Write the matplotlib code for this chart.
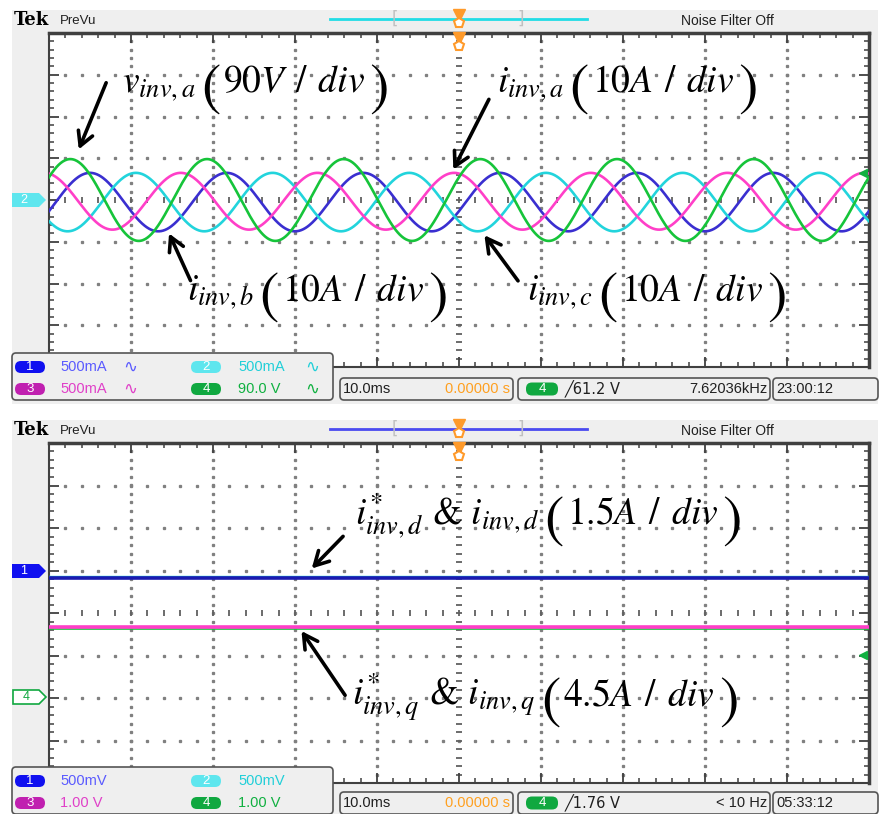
import numpy as np
import matplotlib
matplotlib.use('Agg')
from matplotlib import pyplot as plt
from matplotlib.patches import FancyBboxPatch, Polygon, Rectangle

plt.rcParams['mathtext.fontset'] = 'stix'

# ---- data ----
channels = ['1', '2', '3', '4']
trace_colors = ['#3a2fd0', '#22d4dc', '#ff3fc8', '#16c43a']
badge_colors = ['#1010f0', '#5ee6ee', '#c020b0', '#10a840']
label_colors = ['#5a5aff', '#20cfd8', '#e040c8', '#10b040']

# top screen: 60 Hz sines, 10 ms/div, values in divisions
freq_hz = 60.0
amp_div = [0.70, 0.70, 0.68, 0.98]
peak_ms = [5.0, 10.6, -0.6, 2.6]
offset_div = [-0.05, -0.05, -0.03, 0.0]
scale_top = ['500mA', '500mA', '500mA', '90.0 V']

# bottom screen: dc levels in divisions
level_div = [0.82, 0.86, -0.33, -0.37]
level_width = [2.6, 1.0, 2.6, 1.2]
scale_bot = ['500mV', '500mV', '1.00 V', '1.00 V']

timebase = '10.0ms'
position = '0.00000 s'
trig_top, freq_top, clock_top = '61.2 V', '7.62036kHz', '23:00:12'
trig_bot, freq_bot, clock_bot = '1.76 V', '< 10 Hz', '05:33:12'

fig = plt.figure(figsize=(8.8, 8.14), dpi=100)
fig.patch.set_facecolor('white')

# background layer in pixel coords
bg = fig.add_axes([0, 0, 1, 1], zorder=0)
bg.set_xlim(0, 880); bg.set_ylim(814, 0); bg.axis('off')
for y0, y1 in [(10, 404), (420, 814)]:
    bg.add_patch(Rectangle((12, y0), 866, y1 - y0, facecolor='#efefef', edgecolor='none'))

axes = []
for top_px, bot_px in [(33, 367), (443, 783)]:
    ax = fig.add_axes([49 / 880, 1 - bot_px / 814, 820 / 880, (bot_px - top_px) / 814], zorder=1)
    ax.set_xlim(-50, 50)
    ax.set_ylim(-4, 4)
    ax.set_facecolor('white')
    ax.set_xticks(np.arange(-50, 51, 10))
    ax.set_xticks(np.arange(-50, 51, 2), minor=True)
    ax.set_yticks(np.arange(-4, 4.1, 1))
    ax.set_yticks(np.arange(-4, 4.1, 0.2), minor=True)
    ax.tick_params(which='both', direction='in', top=True, right=True,
                   labelbottom=False, labelleft=False, color='#404040')
    ax.tick_params(which='major', length=7, width=1.3)
    ax.tick_params(which='minor', length=3.5, width=1.1)
    for s in ax.spines.values():
        s.set_color('#404040'); s.set_linewidth(1.5)
    ax.spines['top'].set_linewidth(2.5)
    ax.spines['right'].set_linewidth(2.5)
    # dotted graticule
    ydots = np.arange(-3.8, 3.81, 0.2)
    for gx in [-40, -30, -20, -10, 10, 20, 30, 40]:
        ax.plot(np.full_like(ydots, gx), ydots, ls='none', marker='s', ms=1.4, color='#808080', zorder=1)
    xdots = np.arange(-48, 48.1, 2)
    for gy in [-3, -2, -1, 1, 2, 3]:
        ax.plot(xdots, np.full_like(xdots, gy), ls='none', marker='s', ms=1.4, color='#808080', zorder=1)
    ax.plot(np.zeros_like(ydots), ydots, ls='none', marker='_', ms=5, mew=1.3, color='#606060', zorder=1)
    ax.plot(xdots, np.zeros_like(xdots), ls='none', marker='|', ms=5, mew=1.3, color='#606060', zorder=1)
    axes.append(ax)

ax1, ax2 = axes

# top traces
t = np.linspace(-50, 50, 1200)
for i in range(4):
    y = offset_div[i] + amp_div[i] * np.cos(2 * np.pi * freq_hz * (t - peak_ms[i]) / 1000.0)
    ax1.plot(t, y, color=trace_colors[i], lw=1.9, zorder=3)

# bottom traces
for i in [3, 2, 1, 0]:
    ax2.plot([-50, 50], [level_div[i], level_div[i]], color=trace_colors[i] if i != 0 else '#1a1ab0',
             lw=level_width[i], zorder=3)


def big_label(ax, x, y, head, unit, size=27):
    t1 = ax.text(x, y, head, fontsize=size, va='baseline', ha='left', zorder=6, family='STIXGeneral')
    t2 = ax.annotate('(', xy=(1, y), xycoords=(t1, 'data'), xytext=(4, -0.33 * size),
                     textcoords='offset points', fontsize=size * 1.55, family='STIXGeneral',
                     va='baseline', zorder=6)
    t3 = ax.annotate(unit, xy=(1, y), xycoords=(t2, 'data'), xytext=(2, 0),
                     textcoords='offset points', fontsize=size, va='baseline', zorder=6)
    ax.annotate(')', xy=(1, y), xycoords=(t3, 'data'), xytext=(3, -0.33 * size),
                textcoords='offset points', fontsize=size * 1.55, family='STIXGeneral',
                va='baseline', zorder=6)


def arrow(ax, start, end):
    ax.annotate('', xy=end, xytext=start,
                arrowprops=dict(arrowstyle='->,head_length=1.0,head_width=0.55', lw=2.6, color='black'),
                zorder=6)


big_label(ax1, -41.1, 2.59, r'$v_{inv,a}$', r'$90V\;\,/\;\,div$')
big_label(ax1, 4.6, 2.59, r'$i_{inv,a}$', r'$10A\;\,/\;\,div$')
big_label(ax1, -33.2, -2.4, r'$i_{inv,b}$', r'$10A\;\,/\;\,div$')
big_label(ax1, 8.3, -2.4, r'$i_{inv,c}$', r'$10A\;\,/\;\,div$')
arrow(ax1, (-42.9, 2.87), (-46.5, 1.15))
arrow(ax1, (3.8, 2.47), (-0.85, 0.67))
arrow(ax1, (-32.6, -1.99), (-35.5, -0.74))
arrow(ax1, (7.4, -1.99), (2.9, -0.79))

big_label(ax2, -12.7, 2.1, r'$i_{inv,d}^{*}$ & $i_{inv,d}$', r'$1.5A\;\,/\;\,div$')
big_label(ax2, -13.0, -2.18, r'$i_{inv,q}^{*}$ & $i_{inv,q}$', r'$4.5A\;\,/\;\,div$')
arrow(ax2, (-13.9, 1.85), (-18.2, 1.0))
arrow(ax2, (-13.7, -1.99), (-19.4, -0.37))

# foreground layer: headers, markers and status boxes (pixel coords)
fg = fig.add_axes([0, 0, 1, 1], zorder=2)
fg.set_xlim(0, 880); fg.set_ylim(814, 0); fg.axis('off')
fg.patch.set_alpha(0)

sans = 'Liberation Sans'
for dy, bar_col in [(0, '#22dde6'), (410, '#4a4af0')]:
    fg.text(14, 20 + dy, 'Tek', family='DejaVu Serif', weight='bold', fontsize=13, va='center')
    fg.text(60, 21 + dy, 'PreVu', family=sans, fontsize=9.5, va='center', color='#202020')
    fg.plot([330, 587], [19 + dy, 19 + dy], color=bar_col, lw=2)
    fg.text(395, 19 + dy, '[', color='#c0c0c0', fontsize=12, va='center', ha='center')
    fg.text(521, 19 + dy, ']', color='#c0c0c0', fontsize=12, va='center', ha='center')
    fg.plot([459], [15 + dy], marker='v', ms=8, color='#ff9a2a')
    fg.plot([459], [23 + dy], marker='p', ms=7, mfc='white', mec='#ff9a2a', mew=1.5)
    fg.plot([459], [38 + dy], marker='v', ms=8, color='#ff9a2a')
    fg.plot([459], [46 + dy], marker='p', ms=7, mfc='white', mec='#ff9a2a', mew=1.5)
    fg.text(727, 21 + dy, 'Noise Filter Off', family=sans, fontsize=10, va='center', ha='center',
            color='#202020')

# channel ground markers on the left
fg.add_patch(Polygon([[12, 193], [39, 193], [46, 200], [39, 207], [12, 207]],
                     facecolor=badge_colors[1], edgecolor='none'))
fg.text(24, 200, '2', color='white', fontsize=9, ha='center', va='center', family=sans)
fg.add_patch(Polygon([[12, 564], [39, 564], [46, 571], [39, 578], [12, 578]],
                     facecolor=badge_colors[0], edgecolor='none'))
fg.text(24, 571, '1', color='white', fontsize=9, ha='center', va='center', family=sans)
fg.add_patch(Polygon([[13, 690], [39, 690], [46, 697], [39, 704], [13, 704]],
                     facecolor='white', edgecolor=badge_colors[3], lw=1.2))
fg.text(26, 697, '4', color=badge_colors[3], fontsize=9, ha='center', va='center', family=sans)
# trigger level markers on the right
fg.plot([863], [173], marker='<', ms=6, color='#10b040')
fg.plot([863], [655], marker='<', ms=6, color='#10b040')


def box(x0, y0, x1, y1):
    fg.add_patch(FancyBboxPatch((x0, y0), x1 - x0, y1 - y0,
                                boxstyle='round,pad=0,rounding_size=4',
                                facecolor='#efefef', edgecolor='#555555', lw=1.2))


def pill(cx, cy, num, col, w=30, h=12):
    fg.add_patch(FancyBboxPatch((cx - w / 2, cy - h / 2), w, h,
                                boxstyle='round,pad=0,rounding_size=6',
                                facecolor=col, edgecolor='none'))
    fg.text(cx, cy + 0.5, num, color='white', fontsize=9.5, ha='center', va='center', family=sans)


def status(y_top, scales, trig, freq, clock, show_wave):
    box(12, y_top, 333, y_top + 47)
    rows = [y_top + 14, y_top + 36]
    slots = [(30, 60, 123, 0), (206, 238, 305, 0), (30, 60, 123, 1), (206, 238, 305, 1)]
    for i in range(4):
        px, tx, wx, r = slots[i]
        pill(px, rows[r], channels[i], badge_colors[i])
        fg.text(tx, rows[r], scales[i], color=label_colors[i], fontsize=10.5,
                family=sans, va='center')
        if show_wave:
            fg.text(wx, rows[r], '∿', color=label_colors[i], fontsize=12,
                    family='DejaVu Sans', va='center')
    yb0, yb1 = y_top + 25, y_top + 47
    ym = (yb0 + yb1) / 2
    box(340, yb0, 513, yb1)
    fg.text(343, ym, timebase, fontsize=10.5, family=sans, va='center', color='#202020')
    fg.text(510, ym, position, fontsize=10.5, family=sans, va='center', ha='right', color='#ffa020')
    box(518, yb0, 770, yb1)
    pill(542, ym, '4', badge_colors[3], w=32, h=13)
    fg.text(565, ym, '╱' + trig, fontsize=10.5, family='DejaVu Sans', va='center', color='#202020')
    fg.text(767, ym, freq, fontsize=10.5, family=sans, va='center', ha='right', color='#202020')
    box(773, yb0, 878, yb1)
    fg.text(776, ym, clock, fontsize=10.5, family=sans, va='center', color='#202020')


status(353, scale_top, trig_top, freq_top, clock_top, True)
status(767, scale_bot, trig_bot, freq_bot, clock_bot, False)

fig.savefig('out.png', dpi=100)
